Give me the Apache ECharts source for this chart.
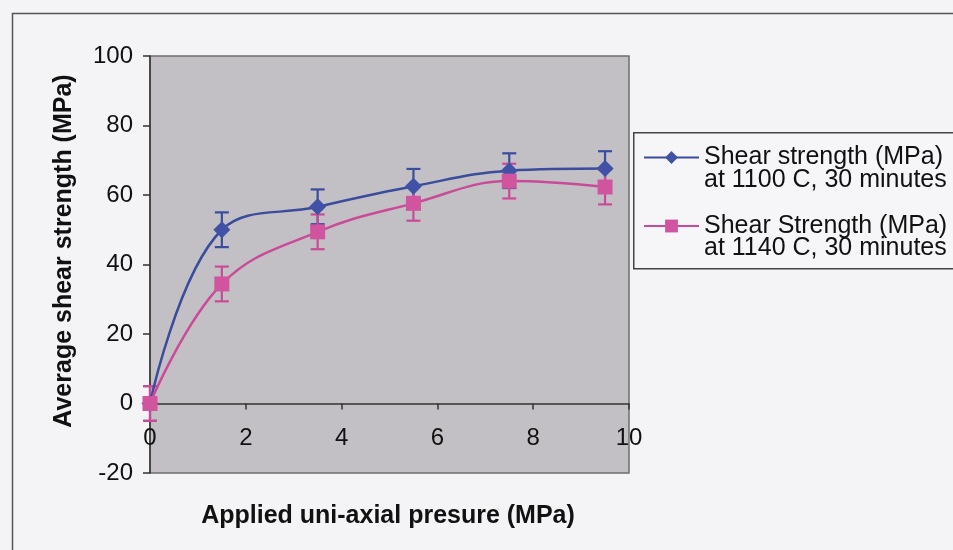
<!DOCTYPE html>
<html>
<head>
<meta charset="utf-8">
<script src="https://cdn.jsdelivr.net/npm/echarts@6/dist/echarts.min.js"></script>
<style>
  html, body { margin: 0; padding: 0; background: #f4f3f6; }
  #chart { width: 953px; height: 550px; }
</style>
</head>
<body>
<div id="chart"></div>
<script>
// Applied uni-axial pressure (MPa)
const pressure = [0, 1.5, 3.5, 5.5, 7.5, 9.5];
// Average shear strength (MPa) for each bonding temperature
const shear1100 = [0, 50, 56.6, 62.5, 67, 67.6];
const shear1140 = [0, 34.4, 49.4, 57.6, 64, 62.3];
// Error bar half-widths (MPa)
const err1100 = [5, 5, 5, 5, 5, 5];
const err1140 = [5, 5, 5, 5, 5, 5];

const seriesNames = ['Shear strength (MPa)\nat 1100 C, 30 minutes', 'Shear Strength (MPa)\nat 1140 C, 30 minutes'];

const BLUE = '#3b4c9c';
const PINK = '#c94b98';
const FONT = 'Liberation Sans, Arial, sans-serif';
const LH = 22.5;

// grid geometry (pixels) and the y range, used to put the x axis on y = 0
const GRID = { left: 150, top: 56, right: 324, bottom: 77 };
const Y_MIN = -20, Y_MAX = 100;
const plotH = 550 - GRID.top - GRID.bottom;
const zeroOffset = -plotH * (0 - Y_MIN) / (Y_MAX - Y_MIN);

const chart = echarts.init(document.getElementById('chart'));

function pairs(ys) { return pressure.map((x, i) => [x, ys[i]]); }
function errData(ys, es) { return pressure.map((x, i) => [x, ys[i] - es[i], ys[i] + es[i]]); }

function errorBarSeries(ys, es, color) {
  return {
    type: 'custom',
    z: 1,
    silent: true,
    data: errData(ys, es),
    renderItem: function (params, api) {
      const x = api.value(0);
      const lo = api.coord([x, api.value(1)]);
      const hi = api.coord([x, api.value(2)]);
      const hw = 7;
      const st = { stroke: color, lineWidth: 2.2 };
      return {
        type: 'group',
        children: [
          { type: 'line', shape: { x1: lo[0], y1: lo[1], x2: hi[0], y2: hi[1] }, style: st },
          { type: 'line', shape: { x1: lo[0] - hw, y1: lo[1], x2: lo[0] + hw, y2: lo[1] }, style: st },
          { type: 'line', shape: { x1: hi[0] - hw, y1: hi[1], x2: hi[0] + hw, y2: hi[1] }, style: st }
        ]
      };
    }
  };
}

chart.setOption({
  backgroundColor: '#f4f3f6',
  animation: false,
  grid: {
    left: GRID.left, top: GRID.top, right: GRID.right, bottom: GRID.bottom,
    show: true, backgroundColor: '#c2c0c5', borderColor: '#6e6e6e', borderWidth: 1.5
  },
  xAxis: {
    type: 'value', min: 0, max: 10, interval: 2,
    offset: zeroOffset,
    axisLine: { onZero: false, lineStyle: { color: '#333', width: 1.5 } },
    axisTick: { show: true, inside: false, length: 6, lineStyle: { color: '#333', width: 1.5 } },
    axisLabel: { margin: 23, fontSize: 24, color: '#111', fontFamily: FONT },
    splitLine: { show: false }
  },
  yAxis: {
    type: 'value', min: Y_MIN, max: Y_MAX, interval: 20,
    axisLine: { show: true, onZero: false, lineStyle: { color: '#333', width: 1.5 } },
    axisTick: { show: true, length: 7, lineStyle: { color: '#333', width: 1.5 } },
    axisLabel: { margin: 17, fontSize: 24, color: '#111', fontFamily: FONT },
    splitLine: { show: false }
  },
  legend: {
    orient: 'vertical',
    left: 643, top: 122.5,
    padding: 0,
    itemGap: -1.5,
    itemWidth: 55, itemHeight: 16,
    data: seriesNames,
    // a leading blank line keeps the marker level with the first text line
    formatter: name => '\n' + name,
    textStyle: { fontSize: 25, lineHeight: LH, color: '#111', fontFamily: FONT }
  },
  graphic: [
    { type: 'rect', left: 10, top: 11, shape: { width: 960, height: 560 }, z: 0,
      style: { fill: 'none', stroke: '#555', lineWidth: 1.5 } },
    { type: 'rect', left: 633, top: 132, shape: { width: 330, height: 136 }, z: 0,
      style: { fill: '#f6f5f8', stroke: '#444', lineWidth: 1.5 } },
    { type: 'text', x: 388, y: 516, z: 5,
      style: { text: 'Applied uni-axial presure (MPa)', font: 'bold 25px ' + FONT, fill: '#111',
        textAlign: 'center', textVerticalAlign: 'middle' } },
    { type: 'text', x: 64, y: 251, rotation: Math.PI / 2, z: 5,
      style: { text: 'Average shear strength (MPa)', font: 'bold 25px ' + FONT, fill: '#111',
        textAlign: 'center', textVerticalAlign: 'middle' } }
  ],
  series: [
    errorBarSeries(shear1100, err1100, BLUE),
    errorBarSeries(shear1140, err1140, PINK),
    {
      name: seriesNames[0], type: 'line', smooth: 0.4, z: 3,
      data: pairs(shear1100),
      symbol: 'diamond', symbolSize: 17,
      lineStyle: { color: BLUE, width: 2.5 },
      itemStyle: { color: '#3f52a6' }
    },
    {
      name: seriesNames[1], type: 'line', smooth: 0.4, z: 4,
      data: pairs(shear1140),
      symbol: 'rect', symbolSize: 15,
      lineStyle: { color: PINK, width: 2.5 },
      itemStyle: { color: '#d0559e' }
    }
  ]
});
</script>
</body>
</html>
